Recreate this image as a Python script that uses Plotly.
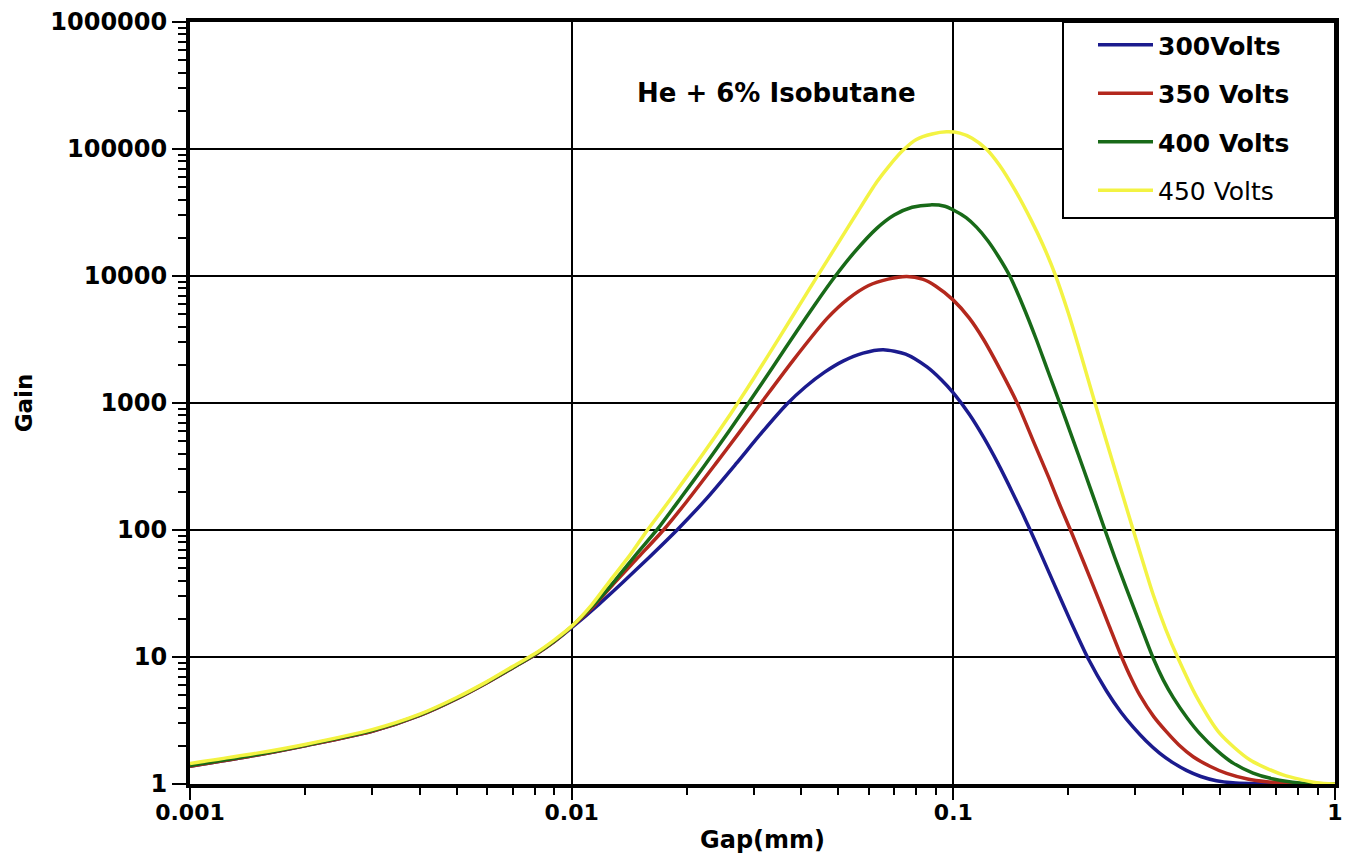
import plotly.graph_objects as go

# ---- data ----
gap_300 = [0.001, 0.0015, 0.002, 0.003, 0.004, 0.005, 0.006, 0.007, 0.008, 0.009,
           0.01, 0.0118, 0.0136, 0.016, 0.019, 0.0225, 0.027, 0.031, 0.0366, 0.041,
           0.046, 0.0514, 0.058, 0.0655, 0.075, 0.0853, 0.093, 0.1, 0.11, 0.12,
           0.131, 0.142, 0.152, 0.158, 0.17, 0.183, 0.202, 0.2255, 0.252, 0.275,
           0.296, 0.32, 0.347, 0.375, 0.408, 0.445, 0.489, 0.54, 0.598, 0.7, 1.0]
gain_300 = [1.38, 1.69, 2.0, 2.6, 3.47, 4.7, 6.28, 8.2, 10.35, 13.2,
            17.0, 26.1, 38.6, 61.4, 102, 175, 334, 553, 977, 1343,
            1750, 2138, 2472, 2630, 2427, 1923, 1524, 1200, 818, 538,
            333, 205, 134, 104, 63.7, 38.5, 19.7, 9.73, 5.4, 3.67,
            2.8, 2.18, 1.75, 1.48, 1.28, 1.146, 1.062, 1.021, 1.007, 1.001, 1.0]

gap_350 = [0.001, 0.0015, 0.002, 0.003, 0.004, 0.005, 0.006, 0.007, 0.008, 0.009,
           0.01, 0.0115, 0.013, 0.015, 0.0174, 0.02, 0.0238, 0.0275, 0.0317, 0.038,
           0.0467, 0.053, 0.06, 0.0675, 0.0755, 0.083, 0.09, 0.1, 0.11, 0.12,
           0.133, 0.147, 0.162, 0.178, 0.19, 0.204, 0.22, 0.237, 0.256, 0.276,
           0.293, 0.308, 0.335, 0.362, 0.39, 0.425, 0.47, 0.52, 0.59, 0.662,
           0.75, 0.85, 1.0]
gain_350 = [1.38, 1.69, 2.0, 2.6, 3.47, 4.7, 6.28, 8.2, 10.35, 13.2,
            17.3, 25.7, 38.9, 61.7, 100, 167, 330, 587, 1045, 2158,
            4634, 6607, 8414, 9441, 9908, 9441, 8318, 6457, 4677, 3162,
            1807, 1000, 501, 257, 158, 95.5, 55, 31.6, 17.6, 10,
            6.7, 5.0, 3.39, 2.57, 2.03, 1.64, 1.38, 1.213, 1.096, 1.042,
            1.014, 1.002, 1.0]

gap_400 = [0.001, 0.0015, 0.002, 0.003, 0.004, 0.005, 0.006, 0.007, 0.008, 0.009,
           0.01, 0.0115, 0.013, 0.0148, 0.0168, 0.0195, 0.0222, 0.0258, 0.0293, 0.0337,
           0.039, 0.0435, 0.0487, 0.055, 0.063, 0.07, 0.078, 0.087, 0.095, 0.1,
           0.108, 0.115, 0.123, 0.1315, 0.1406, 0.152, 0.165, 0.177, 0.19, 0.205,
           0.22, 0.235, 0.2496, 0.265, 0.284, 0.31, 0.334, 0.355, 0.377, 0.41,
           0.443, 0.49, 0.541, 0.61, 0.689, 0.809, 0.9, 1.0]
gain_400 = [1.4, 1.71, 2.02, 2.63, 3.5, 4.73, 6.32, 8.25, 10.45, 13.35,
            17.4, 26.3, 40.2, 64.9, 102, 186, 316, 596, 1038, 1932,
            3724, 6026, 9683, 15346, 23714, 30200, 34754, 36308, 35400, 33113,
            28840, 24266, 19055, 14125, 10000, 5888, 3162, 1778, 1000, 532,
            294, 168, 100, 60.5, 34.7, 17.4, 9.77, 6.58, 4.79, 3.31,
            2.48, 1.84, 1.46, 1.22, 1.096, 1.019, 1.005, 1.0]

gap_450 = [0.001, 0.0015, 0.002, 0.003, 0.004, 0.005, 0.006, 0.007, 0.008, 0.009,
           0.01, 0.0113, 0.0126, 0.0142, 0.0158, 0.018, 0.02, 0.0225, 0.025, 0.0272,
           0.03, 0.035, 0.04, 0.044, 0.05, 0.056, 0.063, 0.068, 0.0738, 0.08,
           0.088, 0.096, 0.104, 0.112, 0.122, 0.132, 0.145, 0.16, 0.172, 0.185,
           0.2, 0.215, 0.235, 0.265, 0.296, 0.334, 0.36, 0.388, 0.434, 0.499,
           0.598, 0.731, 0.895, 1.0]
gain_450 = [1.45, 1.75, 2.05, 2.68, 3.55, 4.8, 6.4, 8.4, 10.6, 13.6,
            17.5, 25.9, 39.8, 63.1, 100, 169, 262, 430, 679, 993,
            1567, 3273, 6252, 9931, 18323, 31600, 54950, 74130, 97700, 118900,
            131200, 136500, 133400, 121600, 100000, 74800, 47600, 27400, 17400, 10200,
            5130, 2510, 1000, 301, 100, 30.9, 16.6, 9.77, 4.85, 2.5,
            1.55, 1.18, 1.023, 1.0]

series_names = ["<b>300Volts</b>", "<b>350 Volts</b>", "<b>400 Volts</b>", "450 Volts"]
series_colors = ["#1b1b8e", "#b3281d", "#186a18", "#f3f343"]

x_tickvals = [0.001, 0.01, 0.1, 1]
x_ticktext = ["0.001", "0.01", "0.1", "1"]
y_tickvals = [1, 10, 100, 1000, 10000, 100000, 1000000]
y_ticktext = ["1", "10", "100", "1000", "10000", "100000", "1000000"]

x_minor = [m * 10 ** e for e in (-3, -2, -1) for m in range(2, 10)]
y_minor = [m * 10 ** e for e in range(0, 6) for m in range(2, 10)]

FONT = "DejaVu Sans"

fig = go.Figure()
for i, (gx, gy) in enumerate([(gap_300, gain_300), (gap_350, gain_350),
                               (gap_400, gain_400), (gap_450, gain_450)]):
    fig.add_trace(go.Scatter(
        x=gx, y=gy, mode="lines", name=series_names[i],
        legendgroup=f"g{i}",
        line=dict(color=series_colors[i], width=3.5, shape="spline", smoothing=0.7),
    ))

W, H = 1361, 854
L, R, T, B = 190, 26, 22, 70
pw, ph = W - L - R, H - T - B


def px_x(p):
    return (p - L) / pw


def px_y(p):
    return (H - B - p) / ph


fig.update_layout(
    width=W, height=H,
    margin=dict(l=L, r=R, t=T, b=B, pad=0, autoexpand=False),
    paper_bgcolor="white", plot_bgcolor="white",
    font=dict(family=FONT, color="black"),
    showlegend=True,
    legend=dict(
        x=px_x(1093), xanchor="left", y=1.0, yanchor="top",
        bgcolor="rgba(0,0,0,0)", borderwidth=0,
        font=dict(family=FONT, size=25, color="black"),
        itemwidth=55, tracegroupgap=13,
    ),
    xaxis=dict(
        type="log", range=[-3, 0], automargin=False,
        tickvals=x_tickvals, ticktext=x_ticktext,
        tickfont=dict(family=FONT, size=22, color="black", weight="bold"),
        ticks="outside", ticklen=12, tickwidth=2, tickcolor="black",
        ticklabelstandoff=-6,
        showgrid=True, gridcolor="black", gridwidth=1.5,
        showline=True, linecolor="black", linewidth=4, mirror=True,
        zeroline=False,
        minor=dict(tickvals=x_minor, ticks="outside", ticklen=7, tickwidth=2,
                   tickcolor="black", showgrid=False),
        title=dict(text="Gap(mm)", standoff=34,
                   font=dict(family=FONT, size=24, color="black", weight="bold")),
    ),
    yaxis=dict(
        type="log", range=[0, 6], automargin=False,
        tickvals=y_tickvals, ticktext=y_ticktext,
        tickfont=dict(family=FONT, size=24, color="black", weight="bold"),
        ticks="outside", ticklen=14, tickwidth=2, tickcolor="black",
        showgrid=True, gridcolor="black", gridwidth=1.5,
        showline=True, linecolor="black", linewidth=4, mirror=True,
        zeroline=False,
        minor=dict(tickvals=y_minor, ticks="outside", ticklen=8, tickwidth=2,
                   tickcolor="black", showgrid=False),
        title=dict(text="Gain", standoff=12,
                   font=dict(family=FONT, size=23, color="black", weight="bold")),
    ),
    shapes=[dict(
        type="rect", xref="paper", yref="paper",
        x0=px_x(1063), x1=1.0, y0=px_y(218), y1=1.0,
        line=dict(color="black", width=2), fillcolor="white", layer="above",
    )],
    annotations=[dict(
        text="<b>He + 6% Isobutane</b>", xref="paper", yref="paper",
        x=px_x(776), y=px_y(93), xanchor="center", yanchor="middle",
        showarrow=False, font=dict(family=FONT, size=26, color="black"),
    )],
)

fig.write_html("out.html")
